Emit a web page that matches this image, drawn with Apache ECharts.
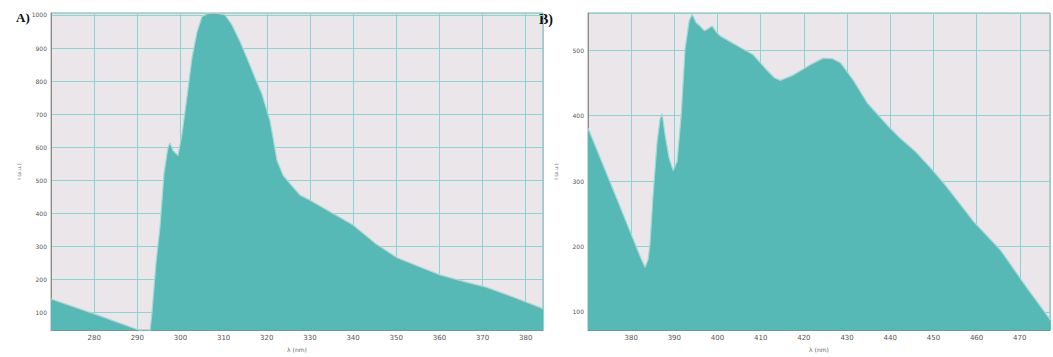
<!DOCTYPE html>
<html>
<head>
<meta charset="utf-8">
<script src="https://cdn.jsdelivr.net/npm/echarts@6/dist/echarts.min.js"></script>
<style>
  html, body { margin: 0; padding: 0; background: #ffffff; }
  #chart { width: 1053px; height: 357px; }
</style>
</head>
<body>
<div id="chart"></div>
<script>
// Panel A: wavelength (nm) and intensity
const wlA = [270.0, 281.35, 290.16, 291.0, 292.94, 293.40, 294.33, 295.26, 296.18, 297.11, 297.57,
  298.27, 299.43, 300.35, 301.51, 302.67, 303.83, 304.99, 306.38, 308.00, 310.32, 311.94,
  313.79, 315.41, 317.27, 318.89, 320.74, 322.37, 323.76, 325.38, 327.70, 330.01, 334.65,
  339.98, 345.07, 350.17, 355.50, 360.13, 365.93, 371.02, 377.51, 384.0];
const intA = [141, 90, 48, 44, 44, 100, 250, 360, 520, 600, 613,
  590, 575, 640, 752, 870, 948, 995, 1005, 1006, 1000, 970,
  920, 870, 810, 760, 680, 560, 515, 490, 455, 440, 405,
  365, 310, 266, 238, 214, 193, 176, 145, 112];

// Panel B: wavelength (nm) and intensity
const wlB = [370.0, 376.5, 382.06, 383.22, 383.92, 384.38, 385.08, 386.01, 386.70, 387.17, 387.86,
  388.79, 389.72, 390.64, 391.57, 392.50, 393.43, 394.12, 395.05, 395.98, 396.91, 397.60,
  398.76, 399.69, 400.62, 404.56, 408.27, 411.52, 413.15, 414.54, 417.55, 421.50, 424.51,
  426.60, 428.46, 431.47, 434.72, 439.36, 442.37, 445.85, 449.33, 452.35, 459.31, 465.57,
  471.83, 477.17];
const intB = [381, 276, 185, 168, 180, 205, 280, 360, 395, 403, 370,
  335, 316, 330, 400, 503, 545, 555, 542, 537, 530, 532,
  537, 528, 522, 507, 493, 469, 458, 454, 462, 478, 488,
  487, 481, 454, 419, 385, 365, 345, 320, 297, 238, 194,
  135, 87];

const panelTags = ['A)', 'B)'];
const axisTitleX = 'λ (nm)';
const axisTitleY = 'I (a.u.)';

const fill = '#56b9b6';
const edge = '#9cdcd8';
const plotBg = '#ebe6e9';
const gridCyan = '#8ad4d2';
const labelColor = '#555555';

// plain integers on the ticks, no thousands separator
const plain = v => String(Math.round(v));

function xAxisCfg(gi, min, max) {
  return {
    type: 'value', gridIndex: gi, min: min, max: max, interval: 10,
    name: axisTitleX, nameLocation: 'middle', nameGap: 13,
    nameTextStyle: { fontSize: 6, color: '#666', fontFamily: 'DejaVu Sans' },
    axisLine: { show: true, lineStyle: { color: '#8c8c8c', width: 1 } },
    axisTick: { show: false },
    axisLabel: { fontSize: 7, color: labelColor, margin: 4, fontFamily: 'DejaVu Sans',
                 showMinLabel: false, showMaxLabel: false, formatter: plain },
    splitLine: { show: true, lineStyle: { color: gridCyan, width: 1 } }
  };
}

function yAxisCfg(gi, min, max, split) {
  return {
    type: 'value', gridIndex: gi, min: min, max: max, splitNumber: split,
    name: axisTitleY, nameLocation: 'middle', nameRotate: 90, nameGap: 30,
    nameTextStyle: { fontSize: 5, color: '#666', fontFamily: 'DejaVu Sans' },
    axisLine: { show: true, lineStyle: { color: '#8c8c8c', width: 1 } },
    axisTick: { show: false },
    axisLabel: { fontSize: 6, color: labelColor, margin: 4, fontFamily: 'DejaVu Sans',
                 showMinLabel: false, showMaxLabel: false, formatter: plain },
    splitLine: { show: true, lineStyle: { color: gridCyan, width: 1 } }
  };
}

function areaSeries(idx, xs, ys) {
  return {
    type: 'line', xAxisIndex: idx, yAxisIndex: idx,
    data: xs.map((x, i) => [x, ys[i]]),
    showSymbol: false, smooth: false, clip: true,
    lineStyle: { color: edge, width: 1.2 },
    areaStyle: { color: fill, opacity: 1 },
    silent: true
  };
}

const chart = echarts.init(document.getElementById('chart'), null, { renderer: 'svg' });
chart.setOption({
  animation: false,
  backgroundColor: '#ffffff',
  grid: [
    { left: 51, top: 13, width: 492, height: 329, show: true, backgroundColor: plotBg,
      borderColor: '#a3a3a3', borderWidth: 1 },
    { left: 588, top: 13, width: 462, height: 330, show: true, backgroundColor: plotBg,
      borderColor: '#a3a3a3', borderWidth: 1 }
  ],
  xAxis: [xAxisCfg(0, 270, 384), xAxisCfg(1, 370, 477)],
  yAxis: [yAxisCfg(0, 47, 1006, 10), yAxisCfg(1, 72, 557, 5)],
  series: [areaSeries(0, wlA, intA), areaSeries(1, wlB, intB)],
  graphic: [
    { type: 'text', left: 16, top: 11,
      style: { text: panelTags[0], font: 'bold 13px "Liberation Serif", serif', fill: '#111' } },
    { type: 'text', left: 539, top: 12,
      style: { text: panelTags[1], font: 'bold 14px "Liberation Serif", serif', fill: '#111' } }
  ]
});
</script>
</body>
</html>
